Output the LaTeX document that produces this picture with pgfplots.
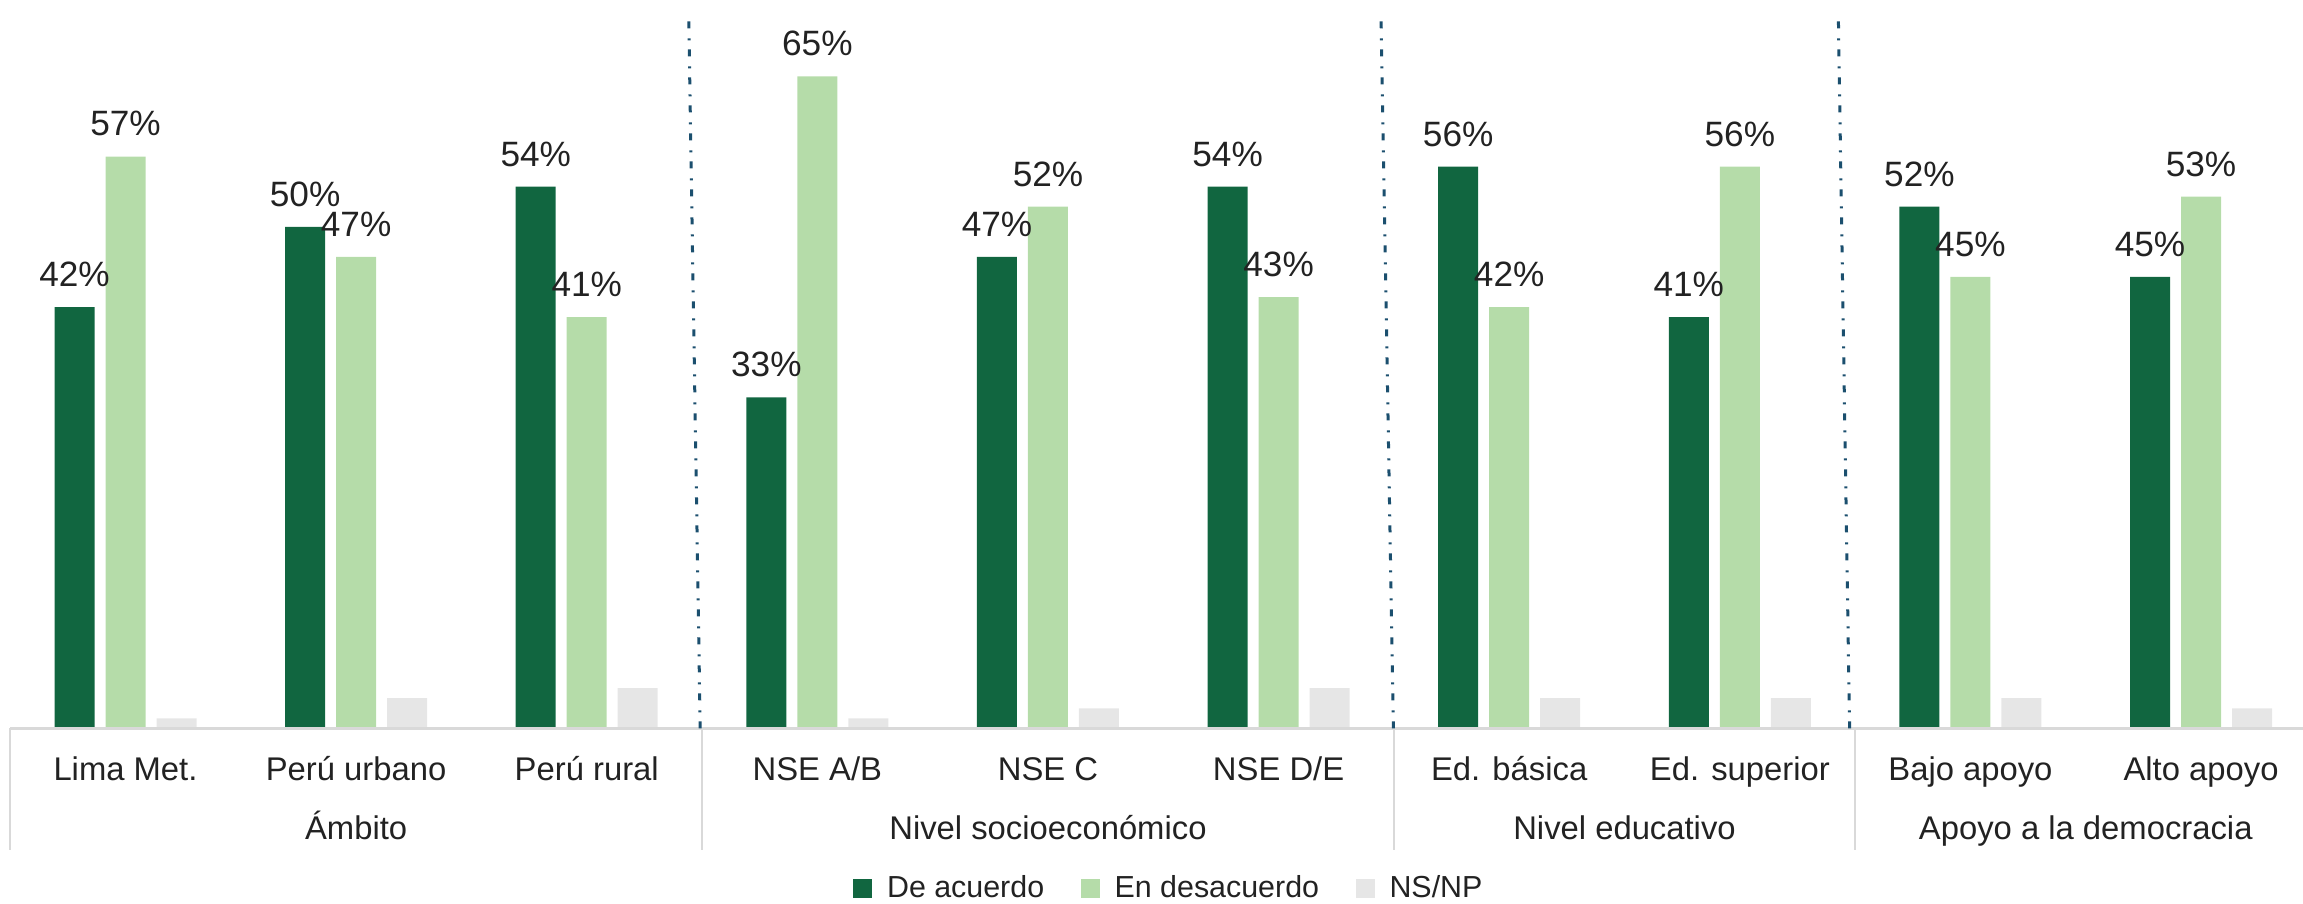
\documentclass[border=0pt]{standalone}
\usepackage{pgfplots}
\usepackage{pgfplotstable}
\pgfplotsset{compat=1.18}
\usepackage{fontspec}
\setmainfont{Liberation Sans}
\definecolor{dgreen}{HTML}{116640}
\definecolor{lgreen}{HTML}{B5DCA9}
\definecolor{ngray}{HTML}{E6E6E6}
\definecolor{sepblue}{HTML}{1B4F6E}
\definecolor{linegray}{HTML}{D9D9D9}
\definecolor{txt}{HTML}{222222}
\pgfplotstableread{
x acuerdo desacuerdo nsnp
0 42 57 1
1 50 47 3
2 54 41 4
3 33 65 1
4 47 52 2
5 54 43 4
6 56 42 3
7 41 56 3
8 52 45 3
9 45 53 2
}\data
\begin{document}
\begin{tikzpicture}
\useasboundingbox (0,0) rectangle (575.75pt,225.75pt);
\begin{axis}[
  at={(2.55pt,43.67pt)}, anchor=south west,
  scale only axis, width=573.2pt, height=182.08pt,
  xmin=-0.5, xmax=9.442, ymin=0, ymax=72.61,
  ybar, bar width=10pt,
  axis line style={draw=none},
  ytick=\empty,
  xtick={0,...,9},
  xticklabels={Lima Met., Perú urbano, Perú rural, NSE A/B, NSE C, NSE D/E, Ed. básica, Ed. superior, Bajo apoyo, Alto apoyo},
  major tick length=0pt,
  xticklabel style={anchor=base, yshift=-13pt, font=\fontsize{8.2}{10}\selectfont, text=txt},
  clip=false,
  /pgf/number format/assume math mode=true,
  legend columns=3,
  legend style={at={(0.506,-0.2207)}, anchor=center, draw=none, fill=none,
    font=\fontsize{7.6}{9}\selectfont, text=txt,
    cells={anchor=base west},
    nodes={inner sep=1.2pt},
    /tikz/every odd column/.append style={column sep=2.5pt},
    /tikz/every even column/.append style={column sep=8pt}},
  legend image code/.code={\fill[#1] (0pt,-0.3pt) rectangle (4.7pt,4.4pt);},
  every node near coord/.append style={anchor=base, yshift=5.15pt, font=\fontsize{8.8}{10}\selectfont, text=txt},
]
\addplot[fill=dgreen, draw=none, bar shift=-12.75pt,
  nodes near coords={\pgfmathprintnumber[assume math mode=true]{\pgfplotspointmeta}\%}]
  table[x=x, y=acuerdo]{\data};
\addplot[fill=lgreen, draw=none, bar shift=0pt,
  nodes near coords={\pgfmathprintnumber[assume math mode=true]{\pgfplotspointmeta}\%}]
  table[x=x, y=desacuerdo]{\data};
\addplot[fill=ngray, draw=none, bar shift=12.75pt]
  table[x=x, y=nsnp]{\data};
\legend{De acuerdo, En desacuerdo, NS/NP}
% baseline
\draw[linegray, line width=0.6pt] (axis cs:-0.5,0) -- (axis cs:9.442,0);
% separators below axis
\draw[linegray, line width=0.5pt] (axis cs:-0.5,0) -- ++(0pt,-30.5pt);
\draw[linegray, line width=0.5pt] (axis cs:2.5,0) -- ++(0pt,-30.5pt);
\draw[linegray, line width=0.5pt] (axis cs:5.5,0) -- ++(0pt,-30.5pt);
\draw[linegray, line width=0.5pt] (axis cs:7.5,0) -- ++(0pt,-30.5pt);
% dash-dot separators
\draw[sepblue, line width=0.75pt, dash pattern=on 1.75pt off 2.25pt on 0.5pt off 2.5pt] (axis cs:2.492,0) -- (axis cs:2.442,71.3);
\draw[sepblue, line width=0.75pt, dash pattern=on 1.75pt off 2.25pt on 0.5pt off 2.5pt] (axis cs:5.498,0) -- (axis cs:5.444,71.3);
\draw[sepblue, line width=0.75pt, dash pattern=on 1.75pt off 2.25pt on 0.5pt off 2.5pt] (axis cs:7.476,0) -- (axis cs:7.427,71.3);
% group labels
\node[anchor=base, yshift=-27.9pt, font=\fontsize{8.2}{10}\selectfont, text=txt] at (axis cs:1,0) {Ámbito};
\node[anchor=base, yshift=-27.9pt, font=\fontsize{8.2}{10}\selectfont, text=txt] at (axis cs:4,0) {Nivel socioeconómico};
\node[anchor=base, yshift=-27.9pt, font=\fontsize{8.2}{10}\selectfont, text=txt] at (axis cs:6.5,0) {Nivel educativo};
\node[anchor=base, yshift=-27.9pt, font=\fontsize{8.2}{10}\selectfont, text=txt] at (axis cs:8.5,0) {Apoyo a la democracia};
\end{axis}
\end{tikzpicture}
\end{document}
